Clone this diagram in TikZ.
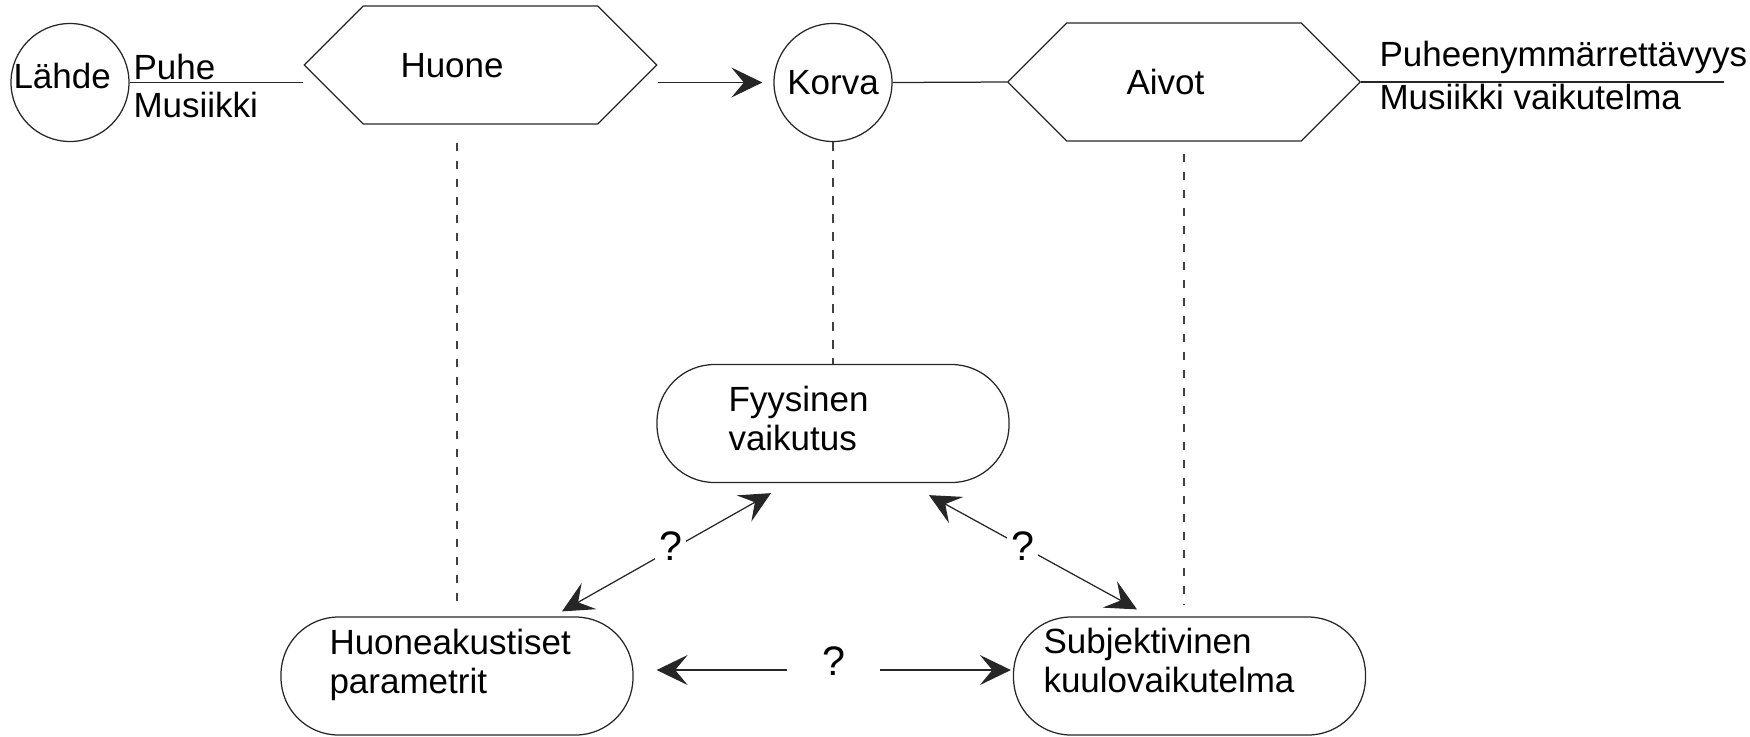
\documentclass[tikz,border=0pt]{standalone}
\usepackage{fontspec}
\setmainfont{Liberation Sans}
\usepackage{tikz}
\usetikzlibrary{arrows.meta}
\usetikzlibrary{shapes.symbols}
\usetikzlibrary{calc}

\tikzset{
  >={Stealth[length=12.4pt,width=12pt,inset=5pt]},
  every node/.append style={font=\fontsize{14}{16}\selectfont},
  wire/.style={draw=black!85, line width=0.5pt},
  dashwire/.style={draw=black!75, line width=0.5pt, dash pattern=on 3.4pt off 3.8pt},
  ring/.style={circle, wire, minimum size=47.2pt, inner sep=0pt},
  hexa/.style={signal, signal to=west and east, signal pointer angle=90, wire,
    minimum width=141pt, minimum height=47.2pt, inner sep=0pt},
  pill/.style={rectangle, rounded corners=23pt, wire, minimum width=140.8pt,
    minimum height=47.2pt, inner sep=0pt},
  txt/.style={anchor=base west, inner sep=0pt},
  qmark/.style={fill=white, inner sep=1.5pt, font=\fontsize{16.5}{18}\selectfont}
}

\begin{document}
\begin{tikzpicture}[x=0.4pt, y=-0.4pt]
  \useasboundingbox (0,0) rectangle (1750,736);

  \node[ring] (lahde) at (70,82.5) {};
  \node[hexa] (huone) at (480.5,65) {};
  \node[ring] (korva) at (833,82.5) {Korva};
  \node[hexa] (aivot) at (1184,82) {};
  \node[pill] (fyys) at (833,423.5) {};
  \node[pill] (akust) at (457,676) {};
  \node[pill] (subj) at (1189.5,676) {};
  \coordinate (ulos) at (1724,82);

  \node[txt] (lahdetxt) at (13,88) {Lähde};
  \node[txt] (puhe) at (133,79) {Puhe};
  \node[txt] (musiikki) at (133,117) {Musiikki};
  \node[txt] (huonetxt) at (400,77) {Huone};
  \node[txt] (aivottxt) at (1126,94) {Aivot};
  \node[txt] (ymmarr) at (1379,66) {Puheenymmärrettävyys};
  \node[txt] (vaik) at (1379,109) {Musiikki vaikutelma};
  \node[txt] (fyys1) at (728,411) {Fyysinen};
  \node[txt] (fyys2) at (728,450) {vaikutus};
  \node[txt] (akust1) at (329,654) {Huoneakustiset};
  \node[txt] (akust2) at (329,693) {parametrit};
  \node[txt] (subj1) at (1043,653) {Subjektivinen};
  \node[txt] (subj2) at (1043,692) {kuulovaikutelma};

  \draw[wire] (lahde.east) -- (lahde.east -| huone.west);
  \draw[wire, ->, shorten >=4.4pt] (huone.east |- korva.west) -- (korva.west);
  \draw[wire] (korva.east) -- (aivot.west);
  \draw[wire] (aivot.east) -- (ulos);

  \draw[dashwire, shorten <=7.2pt, shorten >=2.8pt] (akust.north |- huone.south) -- (akust.north);
  \draw[dashwire] (korva.south) -- (fyys.north);
  \draw[dashwire, shorten <=4.8pt, shorten >=4.8pt] (aivot.south) -- (aivot.south |- subj.north);

  \draw[wire, <->] ($(fyys.south)+(-62,10)$) -- node[qmark, pos=0.48, yshift=1.6pt] (q1) {?} ($(akust.north)+(105,-5)$);
  \draw[wire, <->] ($(fyys.south)+(96,12)$) -- node[qmark, pos=0.45] (q2) {?} ($(subj.north)+(-52.5,-7)$);
  \draw[wire, <->] ($(akust.east)+(23,-6)$) -- node[qmark, inner xsep=14pt, yshift=3.6pt] (q3) {?} ($(subj.west)+(-2,-6)$);
\end{tikzpicture}
\end{document}
